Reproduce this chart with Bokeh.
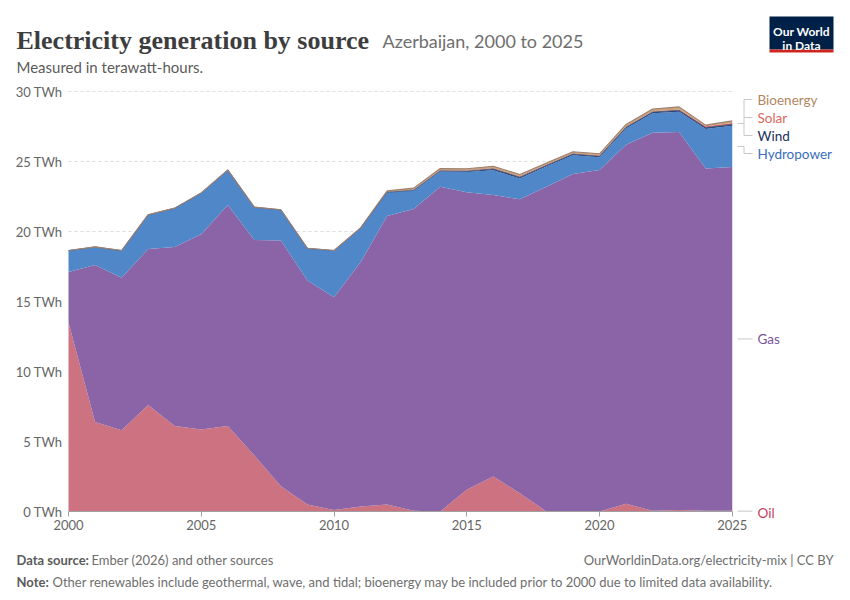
import numpy as np
from bokeh.plotting import figure
from bokeh.models import Range1d, ColumnDataSource
from bokeh.embed import file_html
from bokeh.resources import INLINE
from bokeh.core.properties import value

# ---------------- data (TWh) ----------------
years = list(range(2000, 2026))
oil = [13.5, 6.4, 5.8, 7.6, 6.1, 5.85, 6.1, 4.0, 1.8, 0.5, 0.1, 0.35, 0.5, 0.05, 0.0,
       1.55, 2.5, 1.3, 0.0, 0.0, 0.0, 0.55, 0.05, 0.1, 0.05, 0.05]
gas = [3.6, 11.2, 10.9, 11.15, 12.8, 13.95, 15.8, 15.4, 17.55, 16.0, 15.2, 17.45, 20.6,
       21.55, 23.2, 21.25, 20.1, 21.0, 23.2, 24.1, 24.4, 25.65, 27.0, 27.0, 24.45, 24.55]
hydro = [1.54, 1.3, 1.94, 2.45, 2.77, 2.96, 2.5, 2.34, 2.2, 2.3, 3.34, 2.46, 1.68, 1.32,
         1.1, 1.45, 1.77, 1.48, 1.45, 1.35, 0.9, 1.15, 1.4, 1.45, 2.83, 2.95]
wind = [0, 0, 0, 0, 0, 0, 0, 0, 0, 0, 0, 0, 0.02, 0.02, 0.03, 0.06, 0.1, 0.1, 0.07, 0.08,
        0.07, 0.09, 0.08, 0.1, 0.09, 0.1]
solar = [0, 0, 0, 0, 0, 0, 0, 0, 0, 0, 0, 0, 0, 0.01, 0.03, 0.03, 0.04, 0.04, 0.04, 0.04,
         0.05, 0.05, 0.05, 0.07, 0.1, 0.1]
bioenergy = [0, 0, 0, 0, 0, 0, 0, 0, 0, 0, 0, 0, 0.1, 0.15, 0.14, 0.14, 0.15, 0.15, 0.14,
             0.13, 0.13, 0.16, 0.17, 0.18, 0.08, 0.15]

series_names = ["Oil", "Gas", "Hydropower", "Wind", "Solar", "Bioenergy"]
fill_colors = ["#cd7280", "#8a64a6", "#5087c8", "#2a4a80", "#e0685c", "#c9a27c"]
label_colors = ["#c4405a", "#7b559b", "#3a6ebe", "#1a305c", "#e0685c", "#b2865f"]

x_ticks = [2000, 2005, 2010, 2015, 2020, 2025]
y_ticks = [0, 5, 10, 15, 20, 25, 30]
y_tick_labels = {t: f"{t} TWh" for t in y_ticks}

title = "Electricity generation by source"
subtitle_entity = "Azerbaijan, 2000 to 2025"
subtitle = "Measured in terawatt-hours."
source_bold = "Data source:"
source_text = "Ember (2026) and other sources"
url_text = "OurWorldinData.org/electricity-mix | CC BY"
note_bold = "Note:"
note_text = ("Other renewables include geothermal, wave, and tidal; bioenergy may be "
             "included prior to 2000 due to limited data availability.")

# ---------------- geometry (frame = whole canvas) ----------------
W, H = 850, 600
PX_PER_YEAR = 26.55
PX_PER_TWH = 14.0
X0_PAGE, Y0_PAGE = 68, 511          # where (2000, 0 TWh) sits on the canvas


def px(xp):  # canvas x -> data x
    return 2000 + (xp - X0_PAGE) / PX_PER_YEAR


def py(yp):  # canvas y -> data y
    return (Y0_PAGE - yp) / PX_PER_TWH


p = figure(width=W, height=H, x_range=Range1d(px(0), px(W)), y_range=Range1d(py(H), py(0)),
           output_backend="svg", toolbar_location=None,
           min_border_left=0, min_border_right=0, min_border_top=0, min_border_bottom=0)
p.outline_line_color = None
p.grid.grid_line_color = None
p.background_fill_color = "white"
p.border_fill_color = "white"

# gridlines
p.segment(x0=[2000] * (len(y_ticks) - 1), x1=[2025] * (len(y_ticks) - 1),
          y0=y_ticks[1:], y1=y_ticks[1:], line_color="#dddddd", line_width=1,
          line_dash="3 3")

# stacked areas
keys = ["oil", "gas", "hydro", "wind", "solar", "bio"]
src = ColumnDataSource(dict(year=years, oil=oil, gas=gas, hydro=hydro, wind=wind,
                            solar=solar, bio=bioenergy))
p.varea_stack(stackers=keys, x="year", color=fill_colors, source=src)

stack = np.cumsum(np.array([oil, gas, hydro, wind, solar, bioenergy]), axis=0)
p.line(years, stack[3], line_color="#2a4a80", line_width=0.7)
p.line(years, stack[5], line_color="#a08070", line_width=1.1)

# axes at fixed data locations
xa = p.xaxis[0]
xa.fixed_location = 0
xa.ticker = x_ticks
xa.bounds = (2000, 2025)
xa.axis_line_color = "#a0a0a0"
xa.major_tick_line_color = "#a0a0a0"
xa.major_tick_out = 5
xa.major_tick_in = 0
xa.minor_tick_line_color = None
xa.major_label_text_font = "Lato"
xa.major_label_text_font_size = "13px"
xa.major_label_text_color = "#666666"
xa.major_label_standoff = 3

ya = p.yaxis[0]
ya.fixed_location = 2000
ya.ticker = y_ticks
ya.bounds = (0, 30)
ya.major_label_overrides = y_tick_labels
ya.axis_line_color = None
ya.major_tick_line_color = None
ya.minor_tick_line_color = None
ya.major_tick_out = 0
ya.major_tick_in = 0
ya.major_label_text_font = "Lato"
ya.major_label_text_font_size = "13px"
ya.major_label_text_color = "#666666"
ya.major_label_standoff = 6

# ---------------- end labels (legend) ----------------
last = len(years) - 1
mid = [(stack[i][last] + (stack[i - 1][last] if i > 0 else 0)) / 2 for i in range(6)]
xa0, xa1, xa2 = px(737), px(743.5), px(752)
conn = "#c8c8c8"
for i in (0, 1):
    p.line([xa0, xa2], [mid[i], mid[i]], line_color=conn, line_width=1)
top_mid = (mid[3] + mid[4] + mid[5]) / 3
p.line([xa0, xa1], [top_mid, top_mid], line_color=conn, line_width=1)
p.line([xa1, xa1], [py(99), py(135)], line_color=conn, line_width=1)
for yy in (99, 117, 135):
    p.line([xa1, xa2], [py(yy), py(yy)], line_color=conn, line_width=1)
p.line([xa0, xa1, xa1, xa2], [mid[2], mid[2], py(153), py(153)], line_color=conn, line_width=1)

label_page_y = {"Bioenergy": 99, "Solar": 117, "Wind": 135, "Hydropower": 153}
lab_y = [py(label_page_y[n]) if n in label_page_y else mid[i]
         for i, n in enumerate(series_names)]
lab_y[0] = py(512)
p.text(x=[px(757)] * 6, y=lab_y, text=series_names, text_color=label_colors,
       text_font=value("Lato"), text_font_size="13.5px", text_baseline="middle",
       text_align="left")


# ---------------- header / footer ----------------
def add_text(text, xp, yp, size, color, font="Lato", style="normal", align="left"):
    p.text(x=[px(xp)], y=[py(yp)], text=[text], text_font=value(font),
           text_font_size=size, text_color=color, text_font_style=style,
           text_baseline="alphabetic", text_align=align)


add_text(title, 16, 40, "26px", "#3d3d3d", font="Liberation Serif", style="bold")
add_text(subtitle_entity, 382, 40, "18px", "#6e6e6e")
add_text(subtitle, 16, 66, "15px", "#5b5b5b")
add_text(source_bold, 16, 559, "13px", "#5b5b5b", style="bold")
add_text(source_text, 91, 559, "13px", "#6e6e6e")
add_text(url_text, 833, 559, "13px", "#6e6e6e", align="right")
add_text(note_bold, 16, 581, "13px", "#5b5b5b", style="bold")
add_text(note_text, 52, 581, "13px", "#6e6e6e")

# logo
p.quad(left=[px(769)], right=[px(833)], top=[py(16)], bottom=[py(49)],
       fill_color="#002147", line_color=None)
p.quad(left=[px(769)], right=[px(833)], top=[py(49)], bottom=[py(52)],
       fill_color="#ce261e", line_color=None)
add_text("Our World", 801, 31, "12px", "white", style="bold", align="center")
add_text("in Data", 801, 45, "12px", "white", style="bold", align="center")

open("out.html", "w").write(file_html(p, INLINE))
